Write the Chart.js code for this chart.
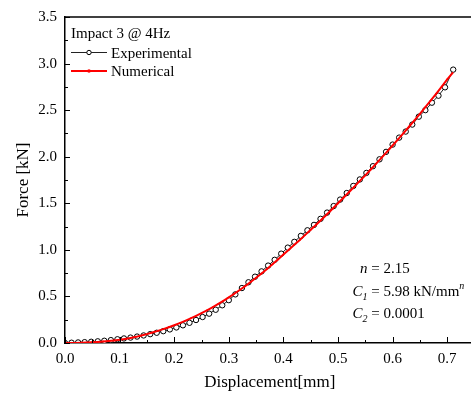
<!DOCTYPE html>
<html>
<head>
<meta charset="utf-8">
<script src="https://cdn.jsdelivr.net/npm/chart.js@4"></script>
<style>
html,body{margin:0;padding:0;background:#fff;overflow:hidden;width:471px;height:398px;}
#wrap{width:480px;height:398px;}
</style>
</head>
<body>
<div id="wrap"><canvas id="c" width="480" height="398"></canvas></div>
<script>
// ---- data ----
const legendTitle = 'Impact 3 @ 4Hz';
const seriesNames = ['Experimental', 'Numerical'];

const expX = [0,0.012,0.024,0.036,0.048,0.060,0.072,0.084,0.096,0.108,0.120,0.132,0.144,0.156,0.168,0.180,0.192,0.204,0.216,0.228,0.240,0.252,0.264,0.276,0.288,0.300,0.312,0.324,0.336,0.348,0.360,0.372,0.384,0.396,0.408,0.420,0.432,0.444,0.456,0.468,0.480,0.492,0.504,0.516,0.528,0.540,0.552,0.564,0.576,0.588,0.600,0.612,0.624,0.636,0.648,0.660,0.672,0.684,0.696,0.711];
const expF = [0,0.003,0.006,0.009,0.013,0.018,0.024,0.031,0.040,0.049,0.058,0.069,0.081,0.095,0.110,0.127,0.146,0.167,0.190,0.217,0.247,0.279,0.315,0.357,0.405,0.460,0.522,0.590,0.652,0.712,0.769,0.831,0.893,0.959,1.024,1.086,1.150,1.210,1.268,1.333,1.400,1.470,1.540,1.610,1.686,1.756,1.826,1.898,1.972,2.052,2.130,2.205,2.270,2.345,2.430,2.500,2.580,2.655,2.745,2.935];

const numX = [0,0.01,0.02,0.03,0.04,0.05,0.06,0.07,0.08,0.09,0.10,0.11,0.12,0.13,0.14,0.15,0.16,0.17,0.18,0.19,0.20,0.21,0.22,0.23,0.24,0.25,0.26,0.27,0.28,0.29,0.30,0.31,0.32,0.33,0.34,0.35,0.36,0.37,0.38,0.39,0.40,0.41,0.42,0.43,0.44,0.45,0.46,0.47,0.48,0.49,0.50,0.51,0.52,0.53,0.54,0.55,0.56,0.57,0.58,0.59,0.60,0.61,0.62,0.63,0.64,0.65,0.66,0.67,0.68,0.69,0.70,0.71];
const numF = [0,0.000,0.001,0.003,0.005,0.008,0.012,0.017,0.022,0.028,0.035,0.044,0.054,0.066,0.080,0.095,0.112,0.130,0.149,0.169,0.190,0.213,0.238,0.264,0.291,0.320,0.351,0.383,0.417,0.453,0.490,0.529,0.569,0.611,0.655,0.700,0.747,0.795,0.845,0.897,0.950,1.002,1.054,1.107,1.161,1.215,1.270,1.326,1.383,1.441,1.500,1.559,1.619,1.679,1.740,1.800,1.863,1.926,1.990,2.055,2.120,2.187,2.254,2.322,2.390,2.460,2.532,2.604,2.678,2.753,2.830,2.900];

const xTicks = [0,0.1,0.2,0.3,0.4,0.5,0.6,0.7];
const xTickLabels = ['0.0','0.1','0.2','0.3','0.4','0.5','0.6','0.7'];
const yTicks = [0,0.5,1.0,1.5,2.0,2.5,3.0,3.5];
const yTickLabels = ['0.0','0.5','1.0','1.5','2.0','2.5','3.0','3.5'];

const xTitle = 'Displacement[mm]';
const yTitle = 'Force [kN]';
const paramN = '2.15';
const paramC1 = '5.98';
const paramC2 = '0.0001';

// ---- drawing ----
const SERIF = '"Liberation Serif", "Times New Roman", serif';

const innerTicks = {
  id: 'innerTicks',
  afterDraw(chart) {
    const {ctx, chartArea: a, scales: {x, y}} = chart;
    ctx.save();
    ctx.strokeStyle = '#000';
    ctx.lineWidth = 1.5;
    ctx.beginPath(); ctx.moveTo(a.left - 0.75, a.top); ctx.lineTo(a.right + 2, a.top); ctx.stroke();
    ctx.lineWidth = 1;
    const seg = (x1, y1, x2, y2) => { ctx.beginPath(); ctx.moveTo(x1, y1); ctx.lineTo(x2, y2); ctx.stroke(); };
    const xStep = xTicks[1] - xTicks[0];
    xTicks.forEach(v => {
      const p = Math.round(x.getPixelForValue(v)) + 0.5;
      seg(p, a.bottom, p, a.bottom - 6);
      const m = v + xStep / 2;
      if (m <= x.max) { const q = Math.round(x.getPixelForValue(m)) + 0.5; seg(q, a.bottom, q, a.bottom - 3); }
    });
    const yStep = yTicks[1] - yTicks[0];
    yTicks.forEach((v, i) => {
      const p = Math.round(y.getPixelForValue(v)) + 0.5;
      seg(a.left - 1, p, a.left + 5, p);
      if (i < yTicks.length - 1) {
        const q = Math.round(y.getPixelForValue(v + yStep / 2)) + 0.5; seg(a.left, q, a.left + 3, q);
      }
    });
    ctx.restore();
  }
};

const legendAndNotes = {
  id: 'legendAndNotes',
  afterDraw(chart) {
    const {ctx, chartArea: a} = chart;
    const ds = chart.data.datasets;
    ctx.save();
    ctx.fillStyle = '#000';
    ctx.textBaseline = 'alphabetic';
    ctx.textAlign = 'left';
    ctx.font = '15px ' + SERIF;
    const lx = a.left + 6;
    ctx.fillText(legendTitle, lx, a.top + 21);
    const rows = [{d: ds[1], y: a.top + 35.5}, {d: ds[0], y: a.top + 54}];
    rows.forEach(r => {
      ctx.strokeStyle = r.d.borderColor;
      ctx.lineWidth = r.d.borderWidth;
      ctx.beginPath(); ctx.moveTo(lx, r.y); ctx.lineTo(lx + 36, r.y); ctx.stroke();
      ctx.beginPath();
      ctx.arc(lx + 18, r.y, r.d.legendRadius, 0, Math.PI * 2);
      ctx.fillStyle = r.d.pointBackgroundColor; ctx.fill();
      if (r.d.pointBorderWidth) { ctx.lineWidth = 1; ctx.strokeStyle = r.d.pointBorderColor; ctx.stroke(); }
      ctx.fillStyle = '#000';
      ctx.fillText(r.d.label, lx + 40, r.y + 5);
    });
    const it = '15px ' + SERIF, itI = 'italic 15px ' + SERIF, sub = 'italic 10px ' + SERIF;
    const run = (parts, x0, yb) => {
      let xx = x0;
      parts.forEach(([t, f, dy]) => { ctx.font = f; ctx.fillText(t, xx, yb + (dy || 0)); xx += ctx.measureText(t).width; });
    };
    run([['n', itI], [' = ' + paramN, it]], 360, 273);
    run([['C', itI], ['1', sub, 4], [' = ' + paramC1 + ' kN/mm', it], ['n', sub, -7]], 352.5, 296);
    run([['C', itI], ['2', sub, 4], [' = ' + paramC2, it]], 352.5, 318);
    ctx.restore();
  }
};

const ctx = document.getElementById('c').getContext('2d');
new Chart(ctx, {
  type: 'scatter',
  data: {
    datasets: [
      {
        label: seriesNames[1],
        data: numX.map((v, i) => ({x: v, y: numF[i]})),
        showLine: true,
        borderColor: '#ff0000',
        borderWidth: 2,
        pointRadius: 0.9,
        pointBackgroundColor: '#ff0000',
        pointBorderWidth: 0,
        legendRadius: 1.8,
        order: 0
      },
      {
        label: seriesNames[0],
        data: expX.map((v, i) => ({x: v, y: expF[i]})),
        showLine: true,
        borderColor: '#222222',
        borderWidth: 1,
        pointRadius: 2.7,
        pointBackgroundColor: '#ffffff',
        pointBorderColor: '#000000',
        pointBorderWidth: 1,
        legendRadius: 2.2,
        order: 1
      }
    ]
  },
  options: {
    responsive: false,
    animation: false,
    layout: {padding: {top: 14, right: 5.5, left: 0, bottom: 0}},
    plugins: {legend: {display: false}, tooltip: {enabled: false}},
    scales: {
      x: {
        type: 'linear', min: 0, max: 0.75,
        grid: {display: false, drawTicks: false},
        border: {display: true, color: '#000', width: 1.5},
        afterBuildTicks: s => { s.ticks = xTicks.map(v => ({value: v})); },
        afterFit: s => { s.height = 55; },
        ticks: {
          color: '#000', font: {family: SERIF, size: 15}, padding: 7, maxRotation: 0,
          callback: (v, i) => xTickLabels[i]
        },
        title: {display: true, text: xTitle, color: '#000', font: {family: SERIF, size: 17}, padding: {top: 0, bottom: 5}}
      },
      y: {
        type: 'linear', min: 0, max: 3.5,
        grid: {display: false, drawTicks: false},
        border: {display: true, color: '#000', width: 1.5},
        afterBuildTicks: s => { s.ticks = yTicks.map(v => ({value: v})); },
        afterFit: s => { s.width = 65; },
        ticks: {
          color: '#000', font: {family: SERIF, size: 15}, padding: 8,
          callback: (v, i) => yTickLabels[i]
        },
        title: {display: true, text: yTitle, color: '#000', font: {family: SERIF, size: 17}, padding: {top: 13, bottom: 0}}
      }
    }
  },
  plugins: [innerTicks, legendAndNotes]
});
</script>
</body>
</html>
